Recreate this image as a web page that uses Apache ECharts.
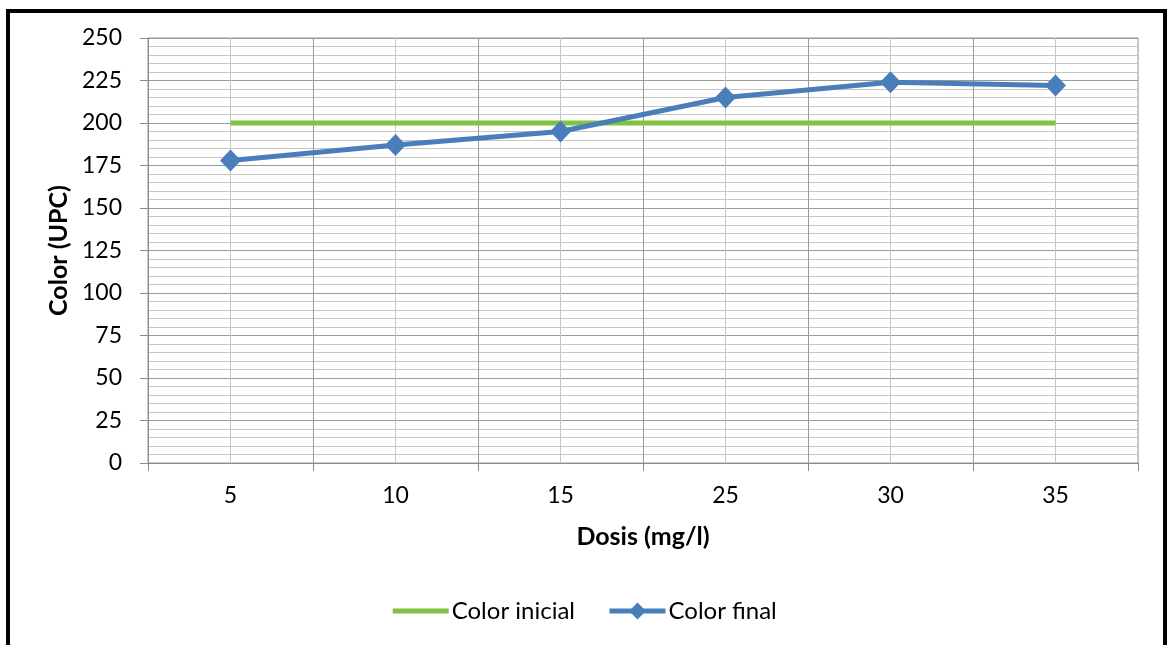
<!DOCTYPE html>
<html><head><meta charset="utf-8">
<script src="https://cdn.jsdelivr.net/npm/echarts@6/dist/echarts.min.js"></script>
<style>
html,body{margin:0;padding:0;background:#fff;overflow:hidden}
#frame{position:absolute;left:6px;top:9px;width:1153px;height:700px;border:4px solid #000;box-sizing:content-box}
#c{position:absolute;left:0;top:0;width:1167px;height:645px}
</style></head>
<body>
<div id="frame"></div>
<div id="c"></div>
<script>
const categories = ['5','10','15','25','30','35'];
const colorInicial = [200,200,200,200,200,200];
const colorFinal = [178,187,195,215,224,222];
const yTicks = {min:0, max:250, interval:25};
const halfCats = categories.flatMap(c => [c + 'a', c + 'b']);

const FONT = 'Lato, "Open Sans", sans-serif';
const chart = echarts.init(document.getElementById('c'), null, {renderer:'canvas'});
chart.setOption({
  backgroundColor: 'transparent',
  animation: false,
  textStyle: {fontFamily: FONT},
  grid: {left:148, right:29, top:38, bottom:182, show:true, borderColor:'#9a9a9a', borderWidth:1},
  legend: {
    top: 594, left: 'center', itemWidth: 56, itemHeight: 21, itemGap: 32,
    lineStyle: {width: 5},
    textStyle: {fontSize: 24, color:'#000', fontFamily: FONT, padding:[0,0,0,-2]},
    data: [
      {name:'Color inicial', itemStyle:{color:'rgba(0,0,0,0)', borderColor:'rgba(0,0,0,0)', borderWidth:0, opacity:0}},
      {name:'Color final'}
    ]
  },
  xAxis: [{
    type:'category', data: categories, boundaryGap:true, position:'bottom',
    name:'Dosis (mg/l)', nameLocation:'middle', nameGap:61,
    nameTextStyle:{fontSize:25, fontWeight:'bold', color:'#000', verticalAlign:'top', fontFamily: FONT},
    axisLine:{show:true, lineStyle:{color:'#8c8c8c', width:1}},
    axisTick:{show:true, length:8, lineStyle:{color:'#8c8c8c'}},
    axisLabel:{fontSize:23, color:'#000', margin:21, fontFamily: FONT},
    splitLine:{show:true, lineStyle:{color:'#9a9a9a', width:1}}
  },{
    type:'category', data: halfCats, boundaryGap:true, position:'bottom',
    axisLine:{show:false}, axisTick:{show:false}, axisLabel:{show:false},
    splitLine:{show:true, interval:(i)=> i % 2 === 1, lineStyle:{color:'#c6c6c6', width:1}},
    z: 0
  }],
  yAxis: {
    type:'value', min:yTicks.min, max:yTicks.max, interval:yTicks.interval,
    name:'Color (UPC)', nameLocation:'middle', nameGap:76,
    nameTextStyle:{fontSize:25, fontWeight:'bold', color:'#000', fontFamily: FONT},
    axisLine:{show:true, lineStyle:{color:'#8c8c8c', width:1}},
    axisTick:{show:true, length:8, lineStyle:{color:'#8c8c8c'}},
    axisLabel:{fontSize:23, color:'#000', margin:26, fontFamily: FONT},
    splitLine:{show:true, lineStyle:{color:'#9a9a9a', width:1}},
    minorTick:{show:false, splitNumber:5},
    minorSplitLine:{show:true, lineStyle:{color:'#c6c6c6', width:1}}
  },
  series: [{
    name:'Color inicial', type:'line', data: colorInicial, xAxisIndex:0,
    symbol:'none', lineStyle:{color:'#80c241', width:5}, itemStyle:{color:'#80c241'}, z:3
  },{
    name:'Color final', type:'line', data: colorFinal, xAxisIndex:0,
    symbol:'diamond', symbolSize:[21,22], lineStyle:{color:'#4a7ebb', width:5},
    itemStyle:{color:'#4a7ebb'}, z:4
  }]
});
</script>
</body></html>
